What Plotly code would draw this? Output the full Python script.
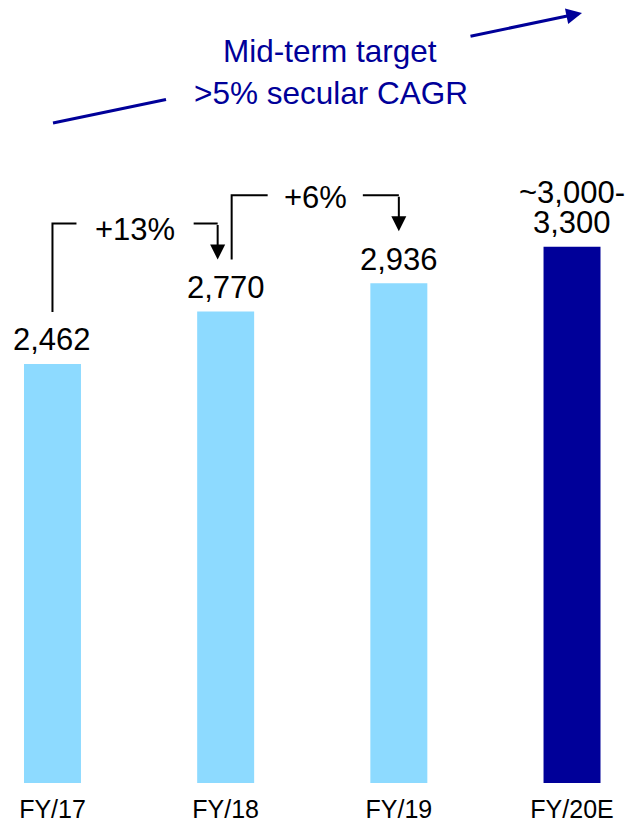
import plotly.graph_objects as go

# ---------------- data ----------------
categories = ["FY/17", "FY/18", "FY/19", "FY/20E"]
values = [2462, 2770, 2936, 3150]
value_labels = ["2,462", "2,770", "2,936", "~3,000-<br>3,300"]
growth_labels = ["+13%", "+6%"]
title_lines = ["Mid-term target", ">5% secular CAGR"]

# ---------------- styles ----------------
LIGHT = "#8DDAFF"
NAVY = "#000099"
bar_colors = [LIGHT, LIGHT, LIGHT, NAVY]
FONT = "Liberation Sans, Arial, sans-serif"

W, H = 629, 825
MB = 42
PLOT_H = H - MB
Y_MAX = 4600
X_RANGE = [-0.303, 3.329]
PX_X = W / (X_RANGE[1] - X_RANGE[0])
PX_Y = PLOT_H / Y_MAX


def dx(px):
    return px / PX_X


def dy(px):
    return px / PX_Y


def paper_x(px):
    return px / W


def paper_y(py):
    return (PLOT_H - py) / PLOT_H


xs = list(range(len(categories)))

fig = go.Figure()
fig.add_trace(go.Bar(
    x=xs, y=values, width=0.329,
    marker=dict(color=bar_colors, line=dict(width=0)),
    hoverinfo="skip",
))

annotations = []
shapes = []

# value labels
for i, (v, lab) in enumerate(zip(values, value_labels)):
    lines = lab.split("<br>")
    for j, line in enumerate(reversed(lines)):
        annotations.append(dict(
            x=i, y=v, xref="x", yref="y", text=line, showarrow=False,
            yanchor="middle", yshift=24 + 30 * j,
            font=dict(family=FONT, size=31, color="black"),
        ))

# growth brackets
start_off = [0, 6]
tip_off = [-8, 0]
seg_px = [24, 36]
text_dy = [-6, -2]
for k, g in enumerate(growth_labels):
    a, b = k, k + 1
    sx = a + dx(start_off[k])
    tx = b + dx(tip_off[k])
    sy = values[a] + dy(52)
    ty = values[b] + dy(52)
    top = max(values[a], values[b]) + dy(88)
    seg = dx(seg_px[k])
    path = (f"M {sx},{sy} L {sx},{top} L {sx + seg},{top} "
            f"M {tx - seg},{top} L {tx},{top}")
    shapes.append(dict(type="path", xref="x", yref="y", path=path,
                       line=dict(color="black", width=2)))
    annotations.append(dict(
        x=tx, y=ty, xref="x", yref="y", ax=tx, ay=top, axref="x", ayref="y",
        text="", showarrow=True, arrowhead=2, arrowwidth=2, arrowsize=1.5,
        arrowcolor="black",
    ))
    annotations.append(dict(
        x=(sx + tx) / 2, y=top, xref="x", yref="y", text=g, showarrow=False,
        yanchor="middle", yshift=text_dy[k],
        font=dict(family=FONT, size=31, color="black"),
    ))

# mid-term target text and arrow
annotations.append(dict(
    x=paper_x(330), y=paper_y(51), xref="paper", yref="paper",
    text=title_lines[0], showarrow=False, yanchor="middle", xanchor="center",
    font=dict(family=FONT, size=31.5, color=NAVY),
))
annotations.append(dict(
    x=paper_x(331.5), y=paper_y(92.5), xref="paper", yref="paper",
    text=title_lines[1], showarrow=False, yanchor="middle", xanchor="center",
    font=dict(family=FONT, size=31.5, color=NAVY),
))
shapes.append(dict(type="line", xref="paper", yref="paper",
                   x0=paper_x(53), y0=paper_y(123), x1=paper_x(166), y1=paper_y(99.5),
                   line=dict(color=NAVY, width=3)))
annotations.append(dict(
    x=paper_x(582), y=paper_y(13), xref="paper", yref="paper",
    ax=469 - 582, ay=36.5 - 13, text="", showarrow=True,
    arrowhead=2, arrowwidth=3, arrowsize=1.05, arrowcolor=NAVY,
))

fig.update_layout(
    width=W, height=H,
    margin=dict(l=0, r=0, t=0, b=MB, pad=0),
    paper_bgcolor="white", plot_bgcolor="white",
    showlegend=False,
    xaxis=dict(range=X_RANGE, tickvals=xs, ticktext=categories,
               showgrid=False, zeroline=False, showline=False, ticks="",
               tickfont=dict(family=FONT, size=25, color="black"),
               ticklabelstandoff=9, fixedrange=True),
    yaxis=dict(range=[0, Y_MAX], visible=False, fixedrange=True),
    annotations=annotations,
    shapes=shapes,
)

fig.write_html("out.html")
